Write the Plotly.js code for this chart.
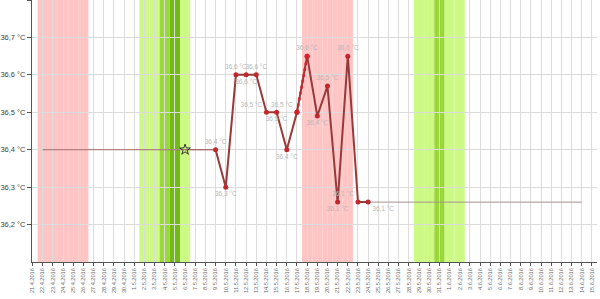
<!DOCTYPE html>
<html><head><meta charset="utf-8">
<script src="https://cdn.plot.ly/plotly-3.0.1.min.js"></script>
<style>html,body{margin:0;padding:0;background:#fff}#c{width:600px;height:299px}</style>
</head><body><div id="c"></div>
<script>
// Temperature readings
var tempDates = ["2016-05-09","2016-05-10","2016-05-11","2016-05-12","2016-05-13","2016-05-14","2016-05-15","2016-05-16","2016-05-17","2016-05-18","2016-05-19","2016-05-20","2016-05-21","2016-05-22","2016-05-23","2016-05-24"];
var tempValues = [36.40,36.30,36.60,36.60,36.60,36.50,36.50,36.40,36.50,36.65,36.49,36.57,36.26,36.65,36.26,36.26];
var tempLabels = ["36,4 °C","36,3 °C","36,6 °C","36,6 °C","36,6 °C","36,5 °C","36,5 °C","36,4 °C","36,5 °C","36,6 °C","36,4 °C","36,5 °C","36,1 °C","36,6 °C","36,1 °C","36,1 °C"];
var labelPos = ["top center","bottom center","top center","bottom center","top center","top left","bottom center","bottom center","top left","top center","bottom center","top center","bottom center","top center","top left","bottom right"];
// highlighted segment
var redDates = ["2016-05-17","2016-05-18"];
var redValues = [36.50,36.65];
// cover lines
var cover1Dates = ["2016-04-22","2016-05-09"];
var cover1Values = [36.40,36.40];
var cover2Dates = ["2016-05-24","2016-06-14"];
var cover2Values = [36.26,36.26];
// star marker
var starDates = ["2016-05-06"];
var starValues = [36.40];
// y tick labels
var yTickVals = [36.2,36.3,36.4,36.5,36.6,36.7,36.8];
var yTickText = ["36,2 °C","36,3 °C","36,4 °C","36,5 °C","36,6 °C","36,7 °C",""];
// day bands
var pinkDays = ["2016-04-22","2016-04-23","2016-04-24","2016-04-25","2016-04-26","2016-05-18","2016-05-19","2016-05-20","2016-05-21","2016-05-22"];
var lightGreenDays = ["2016-05-02","2016-05-03","2016-05-06","2016-05-29","2016-05-30","2016-06-01","2016-06-02"];
var midGreenDays = ["2016-05-04","2016-05-31"];
var darkGreenDays = ["2016-05-05"];

var DAY = 86400000;
function band(d, color){
  var t = new Date(d + "T00:00:00Z").getTime();
  return {type:"rect", xref:"x", yref:"paper", x0:t-DAY/2, x1:t+DAY/2, y0:0, y1:1,
    fillcolor:color, line:{width:0}, layer:"below"};
}
var shapes = [];
pinkDays.forEach(function(d){shapes.push(band(d,"#ffc4c4"));});
lightGreenDays.forEach(function(d){shapes.push(band(d,"#ccfa84"));});
midGreenDays.forEach(function(d){shapes.push(band(d,"#9ad83a"));});
darkGreenDays.forEach(function(d){shapes.push(band(d,"#72bb12"));});

var traces = [
  {x:cover1Dates, y:cover1Values, mode:"lines", line:{color:"#a86a6a", width:1}, hoverinfo:"skip"},
  {x:[starDates[0], tempDates[0]], y:[starValues[0], tempValues[0]], mode:"lines", line:{color:"#a86a6a", width:1}, hoverinfo:"skip"},
  {x:cover2Dates, y:cover2Values, mode:"lines", line:{color:"#a89090", width:1}, hoverinfo:"skip"},
  {x:tempDates, y:tempValues, mode:"lines+markers+text", text:tempLabels, textposition:labelPos,
   textfont:{family:"Liberation Sans", size:6.5, color:"#b8b8b8"},
   line:{color:"#993a3a", width:2}, marker:{color:"#c0282d", size:5}},
  {x:redDates, y:redValues, mode:"lines+markers", line:{color:"#d8202a", width:2.5, dash:"dot"}, marker:{color:"#d8202a", size:5}},
  {x:starDates, y:starValues, mode:"markers", marker:{symbol:"star-open", size:8, color:"#333", line:{width:1}}}
];

var layout = {
  width:600, height:299,
  margin:{l:32, r:3, t:0, b:37},
  showlegend:false,
  paper_bgcolor:"#fff", plot_bgcolor:"#fff",
  font:{family:"Liberation Sans", color:"#555"},
  shapes:shapes,
  xaxis:{type:"date", range:[new Date("2016-04-21T00:00:00Z").getTime()-DAY*0.05, new Date("2016-06-15T00:00:00Z").getTime()+DAY*0.5],
    tick0:"2016-04-21", dtick:DAY, tickformat:"%-d.%-m.%Y", tickangle:-90,
    tickfont:{size:5.6, color:"#666"}, ticks:"outside", ticklen:3, tickcolor:"#555",
    showgrid:true, gridcolor:"#dcdcdc", gridwidth:1,
    showline:true, linecolor:"#555", linewidth:1, zeroline:false, fixedrange:true},
  yaxis:{range:[36.1, 36.8], tickmode:"array", tickvals:yTickVals, ticktext:yTickText,
    tickfont:{size:7.5, color:"#444"}, ticks:"outside", ticklen:4, tickcolor:"#555",
    showgrid:true, gridcolor:"#dcdcdc", gridwidth:1,
    showline:true, linecolor:"#555", linewidth:1, zeroline:false, fixedrange:true}
};
Plotly.newPlot("c", traces, layout, {displayModeBar:false, staticPlot:true});
</script></body></html>
